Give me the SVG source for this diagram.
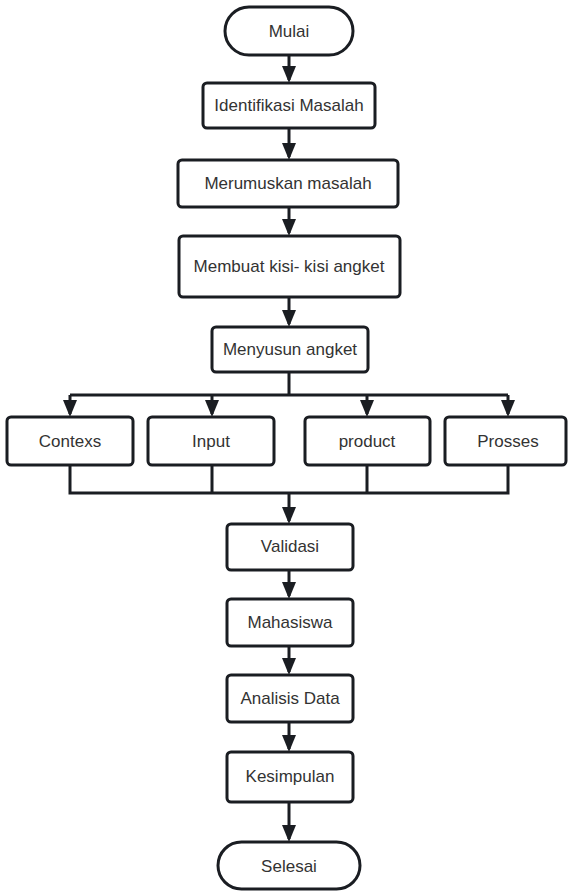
<svg xmlns="http://www.w3.org/2000/svg" width="569" height="892" viewBox="0 0 569 892">
<defs>
<marker id="ah" viewBox="0 0 17 14" refX="14" refY="7" markerWidth="17" markerHeight="14" markerUnits="userSpaceOnUse" orient="auto">
<path d="M0,0 L17,7 L0,14 z" fill="#1a1d22"/>
</marker>
<style>
.b{fill:#fff;stroke:#1a1d22;stroke-width:3}
.t{font-family:"Liberation Sans",Arial,sans-serif;font-size:17px;fill:#333;text-anchor:middle;dominant-baseline:central}
.c{fill:none;stroke:#1a1d22;stroke-width:3}
.a{marker-end:url(#ah)}
</style>
</defs>
<rect width="569" height="892" fill="#fff"/>
<g id="connectors">
<path class="c a" d="M289,55 V80"/>
<path class="c a" d="M289,128 V157"/>
<path class="c a" d="M289,207 V233"/>
<path class="c a" d="M289,297 V324"/>
<path class="c" d="M289,372 V395 M70,395 H508"/>
<path class="c a" d="M70,395 V414"/>
<path class="c a" d="M212,395 V414"/>
<path class="c a" d="M367,395 V414"/>
<path class="c a" d="M508,395 V414"/>
<path class="c" d="M70,465 V493 H508 V465 M212,465 V493 M367,465 V493"/>
<path class="c a" d="M289,493 V521"/>
<path class="c a" d="M289,570 V596"/>
<path class="c a" d="M289,646 V672"/>
<path class="c a" d="M289,722 V749"/>
<path class="c a" d="M289,802 V839"/>
</g>
<g id="mulai"><rect class="b" x="225" y="7" width="128" height="48" rx="24"/><text class="t" x="289" y="31">Mulai</text></g>
<g id="identifikasi"><rect class="b" x="203" y="83" width="172" height="45" rx="4"/><text class="t" x="289" y="105.5">Identifikasi Masalah</text></g>
<g id="merumuskan"><rect class="b" x="178" y="160" width="220" height="47" rx="4"/><text class="t" x="288" y="183">Merumuskan masalah</text></g>
<g id="membuat"><rect class="b" x="179" y="236" width="221" height="61" rx="4"/><text class="t" x="289" y="266">Membuat kisi- kisi angket</text></g>
<g id="menyusun"><rect class="b" x="212" y="327" width="156" height="45" rx="4"/><text class="t" x="290" y="349">Menyusun angket</text></g>
<g id="contexs"><rect class="b" x="7" y="417" width="126" height="48" rx="4"/><text class="t" x="70" y="441">Contexs</text></g>
<g id="input"><rect class="b" x="148" y="417" width="126" height="48" rx="4"/><text class="t" x="211" y="441">Input</text></g>
<g id="product"><rect class="b" x="305" y="417" width="125" height="48" rx="4"/><text class="t" x="367" y="441">product</text></g>
<g id="prosses"><rect class="b" x="445" y="417" width="121" height="48" rx="4"/><text class="t" x="508" y="441">Prosses</text></g>
<g id="validasi"><rect class="b" x="227" y="524" width="126" height="46" rx="4"/><text class="t" x="290" y="546">Validasi</text></g>
<g id="mahasiswa"><rect class="b" x="227" y="599" width="126" height="47" rx="4"/><text class="t" x="290" y="622">Mahasiswa</text></g>
<g id="analisis"><rect class="b" x="227" y="675" width="126" height="47" rx="4"/><text class="t" x="290" y="698">Analisis Data</text></g>
<g id="kesimpulan"><rect class="b" x="227" y="752" width="126" height="50" rx="4"/><text class="t" x="290" y="776">Kesimpulan</text></g>
<g id="selesai"><rect class="b" x="218" y="842" width="142" height="47" rx="23.5"/><text class="t" x="289" y="866">Selesai</text></g>
</svg>
